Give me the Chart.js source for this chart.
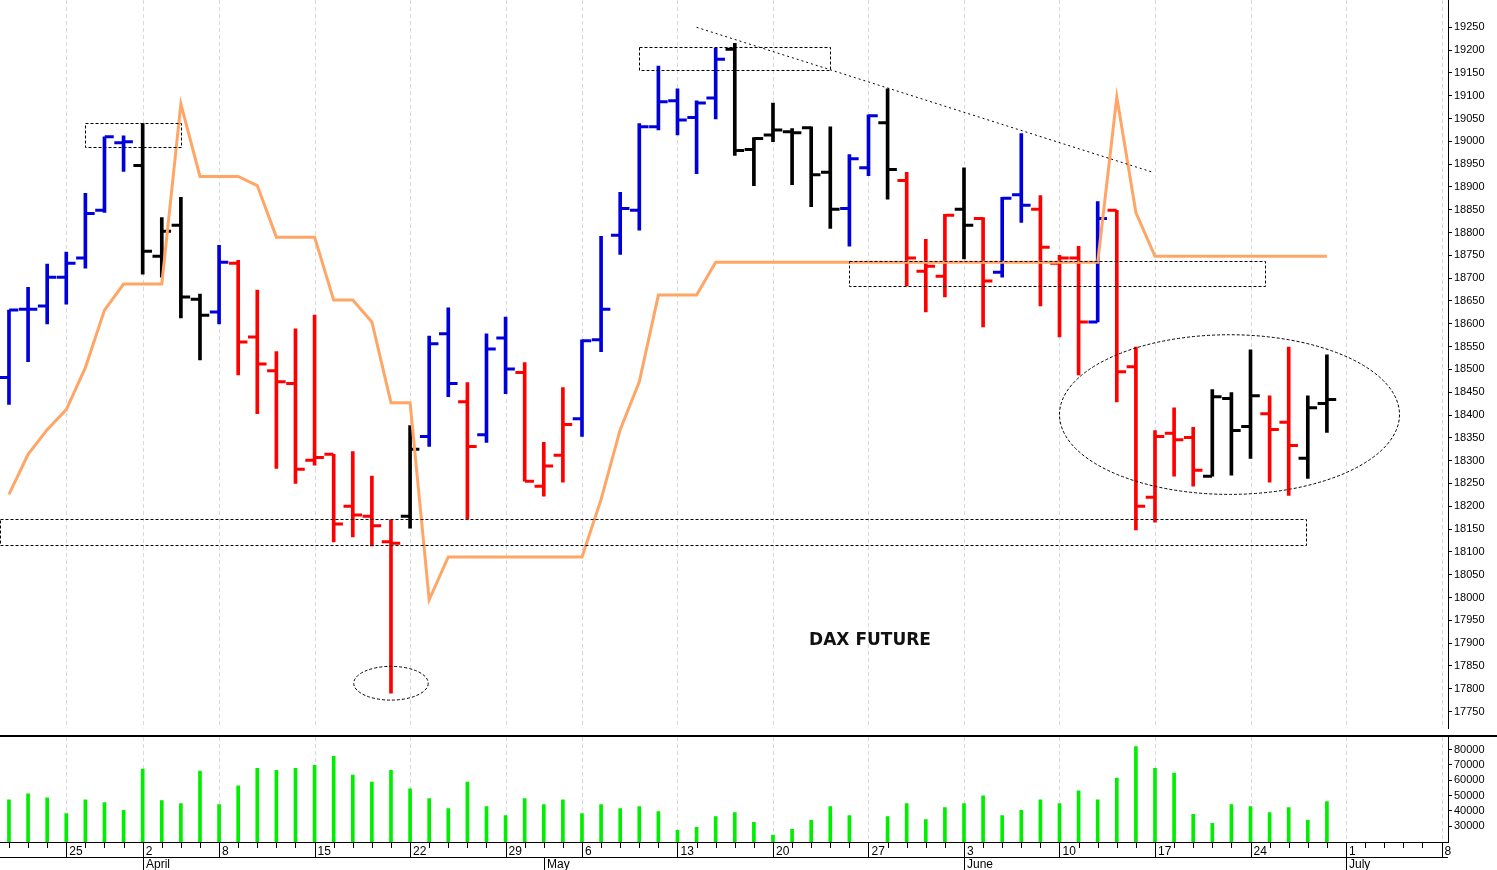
<!DOCTYPE html>
<html>
<head>
<meta charset="utf-8">
<script src="https://cdn.jsdelivr.net/npm/chart.js@4.4.1/dist/chart.umd.min.js"></script>
<style>
  body { margin: 0; background: #fff; }
  canvas { display: block; }
</style>
</head>
<body>
<canvas id="priceChart" width="1497" height="737"></canvas>
<canvas id="volChart" width="1497" height="133"></canvas>
<script>
// daily bars, 20 March .. 28 June (trading days only)
const opens  = [18482,18632,18639,18702,18744,18849,18997,18947,18748,18816,18654,18626,18733,18571,18497,18469,18301,18314,18200,18178,
                18122,18178,18353,18578,18429,18357,18569,18493,18244,18312,18392,18565,18794,18849,19032,19089,19052,19095,19202,18982,
                19014,19021,19030,18932,18853,18942,19041,18914,18715,18704,18851,18831,18713,18883,18851,18733,18744,18604,18849,18506,
                18220,18360,18351,18266,18436,18375,18403,18384,18305,18425];
const highs  = [18630,18680,18731,18757,18886,19010,19012,19039,18833,18877,18665,18772,18739,18674,18539,18589,18619,18314,18320,18266,
                18170,18377,18573,18635,18471,18578,18615,18515,18340,18460,18565,18792,18888,19039,19165,19115,19089,19204,19215,19008,
                19084,19028,19032,19032,18971,19058,19115,18932,18785,18840,18942,18833,18877,19017,18881,18750,18770,18868,18849,18549,
                18366,18416,18373,18456,18449,18543,18442,18549,18442,18532];
const lows   = [18423,18517,18600,18643,18722,18844,18934,18709,18702,18613,18521,18600,18488,18403,18283,18250,18290,18122,18133,18113,
                17790,18152,18331,18440,18172,18340,18447,18255,18222,18253,18353,18539,18752,18805,19025,19014,18929,19049,18969,18903,
                18999,18905,18857,18809,18770,18925,18873,18683,18626,18659,18742,18593,18702,18822,18639,18571,18488,18604,18429,18148,
                18165,18266,18244,18266,18268,18305,18253,18224,18261,18362];
const closes = [18630,18632,18702,18733,18842,19010,18999,18759,18803,18659,18619,18735,18560,18512,18473,18281,18307,18161,18181,18157,
                18119,18325,18556,18469,18331,18545,18501,18255,18288,18379,18563,18632,18853,19032,19087,19047,19084,19180,18980,19006,
                19025,19019,18927,18851,18962,19056,18938,18744,18726,18838,18816,18694,18875,18860,18768,18744,18604,18831,18495,18200,
                18353,18346,18279,18440,18366,18442,18368,18333,18416,18434];
// bar colour signal: 1 = blue, 0 = black, -1 = red
const signal = [1,1,1,1,1,1,1,0,0,0,0,1,-1,-1,-1,-1,-1,-1,-1,-1,
                -1,0,1,1,-1,1,1,-1,-1,-1,1,1,1,1,1,1,1,1,0,0,
                0,0,0,0,1,1,0,-1,-1,-1,0,-1,1,1,-1,-1,-1,1,-1,-1,
                -1,-1,-1,0,0,0,-1,-1,0,0];
// orange stop line
const stopLine = [18226,18314,18368,18412,18504,18630,18687,18687,18687,19082,18923,18923,18923,18903,18790,18790,18790,18652,18652,18604,
                  18427,18427,17995,18089,18089,18089,18089,18089,18089,18089,18089,18215,18368,18473,18663,18663,18663,18735,18735,18735,
                  18735,18735,18735,18735,18735,18735,18735,18735,18735,18735,18735,18735,18735,18735,18735,18735,18735,18735,19097,18844,
                  18748,18748,18748,18748,18748,18748,18748,18748,18748,18748];
const volume = [47300,51100,48600,38300,47300,45400,40300,67200,46700,44800,65900,44100,56300,67800,66500,67800,69700,75500,63300,58800,
                66500,54400,48000,41500,58800,42800,37000,48000,44100,47300,38300,44100,41500,42800,39600,27400,29300,36300,38900,32500,
                24200,28000,33800,42800,37000,15000,36300,44800,34400,42200,44800,49900,37000,40300,47300,44800,53100,47300,61400,82000,
                67800,64600,37700,31900,44100,42800,38900,42200,33800,46000];

// axis labels
const weekIdx = [3,7,11,16,21,26,30,35,40,45,50,55,60,65,70,75];
const weekLabels = ["25","2","8","15","22","29","6","13","20","27","3","10","17","24","1","8"];
const monthIdx = [7,28,50,70];
const monthLabels = ["April","May","June","July"];
const priceTicks = [];
for (let p = 17750; p <= 19250; p += 50) priceTicks.push(p);
const volTicks = [30000,40000,50000,60000,70000,80000];

const X_MIN = -0.47, X_MAX = 75.34;
const colorOf = s => s === 1 ? "#0000dd" : (s === 0 ? "#000000" : "#ff0000");
const barColors = signal.map(colorOf);
const idx = opens.map((_, i) => i);

const FONT = {family: "'Liberation Sans', Arial, sans-serif", size: 12};

// dashed grid lines on each Monday
const weekGrid = {
  id: "weekGrid",
  beforeDatasetsDraw(chart) {
    const {ctx, chartArea: a, scales: {x}} = chart;
    ctx.save();
    ctx.strokeStyle = "#d8d8e0";
    ctx.lineWidth = 1;
    ctx.setLineDash([4, 3]);
    weekIdx.forEach(i => {
      const px = Math.round(x.getPixelForValue(i)) + 0.5;
      ctx.beginPath(); ctx.moveTo(px, 0); ctx.lineTo(px, a.bottom); ctx.stroke();
    });
    ctx.restore();
  }
};

// hand drawn notes on the price panel
const notes = {
  id: "notes",
  afterDatasetsDraw(chart) {
    const {ctx, chartArea: a, scales: {x, y}} = chart;
    ctx.save();
    ctx.strokeStyle = "#000";
    ctx.lineWidth = 1;
    ctx.setLineDash([3, 2]);
    const box = (i0, i1, p0, p1) => {
      const x0 = x.getPixelForValue(i0), x1 = x.getPixelForValue(i1);
      const y0 = y.getPixelForValue(p1), y1 = y.getPixelForValue(p0);
      ctx.strokeRect(Math.round(x0) + 0.5, Math.round(y0) + 0.5, Math.round(x1 - x0), Math.round(y1 - y0));
    };
    box(4, 9, 18988, 19040);
    box(33, 43, 19156, 19206);
    box(44, 65.8, 18683, 18737);
    box(-0.47, 67.9, 18115, 18172);
    const ell = (ci, cp, ri, rp) => {
      const cx = x.getPixelForValue(ci), cy = y.getPixelForValue(cp);
      const rx = x.getPixelForValue(ci + ri) - cx, ry = cy - y.getPixelForValue(cp + rp);
      ctx.beginPath(); ctx.ellipse(cx, cy, rx, ry, 0, 0, Math.PI * 2); ctx.stroke();
    };
    ell(20, 17812, 1.95, 37);
    ell(63.9, 18401, 8.9, 175);
    ctx.setLineDash([2, 3]);
    ctx.beginPath();
    ctx.moveTo(x.getPixelForValue(36.0), y.getPixelForValue(19250));
    ctx.lineTo(x.getPixelForValue(59.9), y.getPixelForValue(18932));
    ctx.stroke();
    ctx.setLineDash([]);
    ctx.fillStyle = "#111";
    ctx.font = "bold 17px 'DejaVu Sans', sans-serif";
    ctx.textAlign = "center";
    ctx.textBaseline = "middle";
    ctx.fillText("DAX FUTURE", 870, 641);
    // frame lines: axis up to the top, bottom of the price panel
    ctx.fillStyle = "#000";
    ctx.fillRect(Math.round(a.right), 0, 1, a.top);
    ctx.fillRect(0, chart.height - 2, chart.width, 2);
    ctx.restore();
  }
};

// day ticks, week separators and month row under the volume panel
const dateAxis = {
  id: "dateAxis",
  afterDraw(chart) {
    const {ctx, chartArea: a, scales: {x}} = chart;
    ctx.save();
    ctx.fillStyle = "#000";
    ctx.fillRect(Math.round(a.right), 0, 1, a.top);
    ctx.fillRect(0, a.bottom, a.right, 1);
    ctx.fillRect(0, a.bottom + 15, a.right, 1);
    for (let i = 0; i <= 75; i++) {
      const px = Math.round(x.getPixelForValue(i));
      ctx.fillRect(px, a.bottom, 1, 6);
    }
    weekIdx.forEach(i => ctx.fillRect(Math.round(x.getPixelForValue(i)), a.bottom, 1, 15));
    ctx.font = "12px 'Liberation Sans', Arial, sans-serif";
    ctx.textBaseline = "top";
    monthIdx.forEach((i, k) => {
      const px = Math.round(x.getPixelForValue(i));
      ctx.fillRect(px, a.bottom + 15, 1, 20);
      ctx.fillText(monthLabels[k], px + 3, a.bottom + 17);
    });
    ctx.restore();
  }
};

const rightAxis = (min, max, ticks) => ({
  position: "right",
  min: min, max: max,
  afterBuildTicks: s => { s.ticks = ticks.map(v => ({value: v})); },
  afterFit: s => { s.width = 49; },
  ticks: {color: "#000", font: {family: FONT.family, size: 11}, padding: 2, callback: v => String(v)},
  grid: {drawOnChartArea: false, color: "#000", tickLength: 4},
  border: {color: "#000"}
});

new Chart(document.getElementById("priceChart"), {
  data: {
    datasets: [
      {
        type: "line",
        data: idx.map(i => ({x: i, y: stopLine[i]})),
        borderColor: "#ffa566",
        borderWidth: 3,
        pointRadius: 0,
        tension: 0
      },
      {
        type: "line", showLine: false,
        data: idx.map(i => ({x: i - 0.25, y: opens[i]})),
        pointStyle: "line", pointRadius: 4.5, pointBorderWidth: 3,
        pointBorderColor: barColors
      },
      {
        type: "line", showLine: false,
        data: idx.map(i => ({x: i + 0.25, y: closes[i]})),
        pointStyle: "line", pointRadius: 4.5, pointBorderWidth: 3,
        pointBorderColor: barColors
      },
      {
        type: "bar",
        data: idx.map(i => ({x: i, y: [lows[i], highs[i]]})),
        backgroundColor: barColors,
        barThickness: 3,
        grouped: false
      }
    ]
  },
  options: {
    responsive: false,
    animation: false,
    events: [],
    layout: {padding: 0, autoPadding: false},
    plugins: {legend: {display: false}, tooltip: {enabled: false}},
    scales: {
      x: {type: "linear", min: X_MIN, max: X_MAX, offset: false, display: false},
      y: rightAxis(17713, 19291, priceTicks)
    }
  },
  plugins: [weekGrid, notes]
});

new Chart(document.getElementById("volChart"), {
  type: "bar",
  data: {
    datasets: [{
      data: idx.map(i => ({x: i, y: volume[i]})),
      backgroundColor: "#00ee00",
      barThickness: 3
    }]
  },
  options: {
    responsive: false,
    animation: false,
    events: [],
    layout: {padding: 0, autoPadding: false},
    plugins: {legend: {display: false}, tooltip: {enabled: false}},
    scales: {
      x: {
        type: "linear", min: X_MIN, max: X_MAX, offset: false,
        afterBuildTicks: s => { s.ticks = weekIdx.map(v => ({value: v})); },
        afterFit: s => { s.height = 28; },
        ticks: {
          align: "start", color: "#000", font: FONT, padding: -6, labelOffset: 3,
          maxRotation: 0, autoSkip: false,
          callback: (v) => { const k = weekIdx.indexOf(v); return k < 0 ? "" : weekLabels[k]; }
        },
        grid: {display: false},
        border: {display: false}
      },
      y: rightAxis(19740, 82560, volTicks)
    }
  },
  plugins: [weekGrid, dateAxis]
});
</script>
</body>
</html>
